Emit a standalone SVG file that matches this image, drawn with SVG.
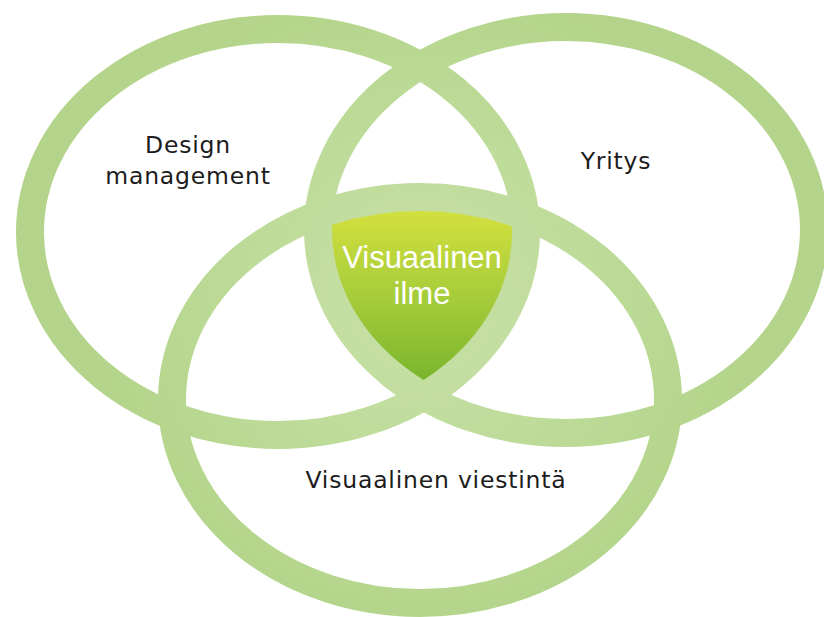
<svg xmlns="http://www.w3.org/2000/svg" width="824" height="617" viewBox="0 0 824 617">
  <style>
    .ring { fill: none; stroke: url(#ringShade); stroke-width: 28; }
    .label { font-family: "DejaVu Sans", Verdana, sans-serif; font-size: 23.5px; letter-spacing: 0.8px; fill: #1c1c1c; text-anchor: middle; }
    .core { font-family: "Liberation Sans", Arial, sans-serif; font-size: 31px; fill: #ffffff; text-anchor: middle; }
  </style>
  <defs>
    <radialGradient id="ringShade" gradientUnits="userSpaceOnUse" cx="422" cy="300" r="330">
      <stop offset="0" stop-color="#c9e1a9"/>
      <stop offset="0.55" stop-color="#bddb98"/>
      <stop offset="1" stop-color="#b3d48a"/>
    </radialGradient>
    <linearGradient id="coreFill" x1="0" y1="210" x2="0" y2="385" gradientUnits="userSpaceOnUse">
      <stop offset="0" stop-color="#d3e03e"/>
      <stop offset="0.5" stop-color="#a6cc3a"/>
      <stop offset="1" stop-color="#78b42c"/>
    </linearGradient>
    <clipPath id="clipLeft"><ellipse cx="278" cy="232" rx="248" ry="203"/></clipPath>
    <clipPath id="clipRight"><ellipse cx="566" cy="230" rx="248" ry="203"/></clipPath>
    <clipPath id="clipBottom"><ellipse cx="420" cy="400" rx="248" ry="203"/></clipPath>
  </defs>

  <rect width="824" height="617" fill="#ffffff"/>

  <!-- shared centre: area inside all three sets -->
  <g id="core-area" clip-path="url(#clipLeft)">
    <g clip-path="url(#clipRight)">
      <g clip-path="url(#clipBottom)">
        <rect x="250" y="150" width="340" height="260" fill="url(#coreFill)"/>
      </g>
    </g>
  </g>

  <g id="set-design-management">
    <ellipse class="ring" cx="278" cy="232" rx="248" ry="203"/>
    <text class="label" x="188" y="153">Design</text>
    <text class="label" x="188" y="184">management</text>
  </g>

  <g id="set-yritys">
    <ellipse class="ring" cx="566" cy="230" rx="248" ry="203"/>
    <text class="label" x="616" y="169">Yritys</text>
  </g>

  <g id="set-visuaalinen-viestinta">
    <ellipse class="ring" cx="420" cy="400" rx="248" ry="203"/>
    <text class="label" x="436" y="488">Visuaalinen viestintä</text>
  </g>

  <g id="core-label">
    <text class="core" x="422" y="268">Visuaalinen</text>
    <text class="core" x="422" y="304">ilme</text>
  </g>

  <g id="connectors"/>
</svg>
